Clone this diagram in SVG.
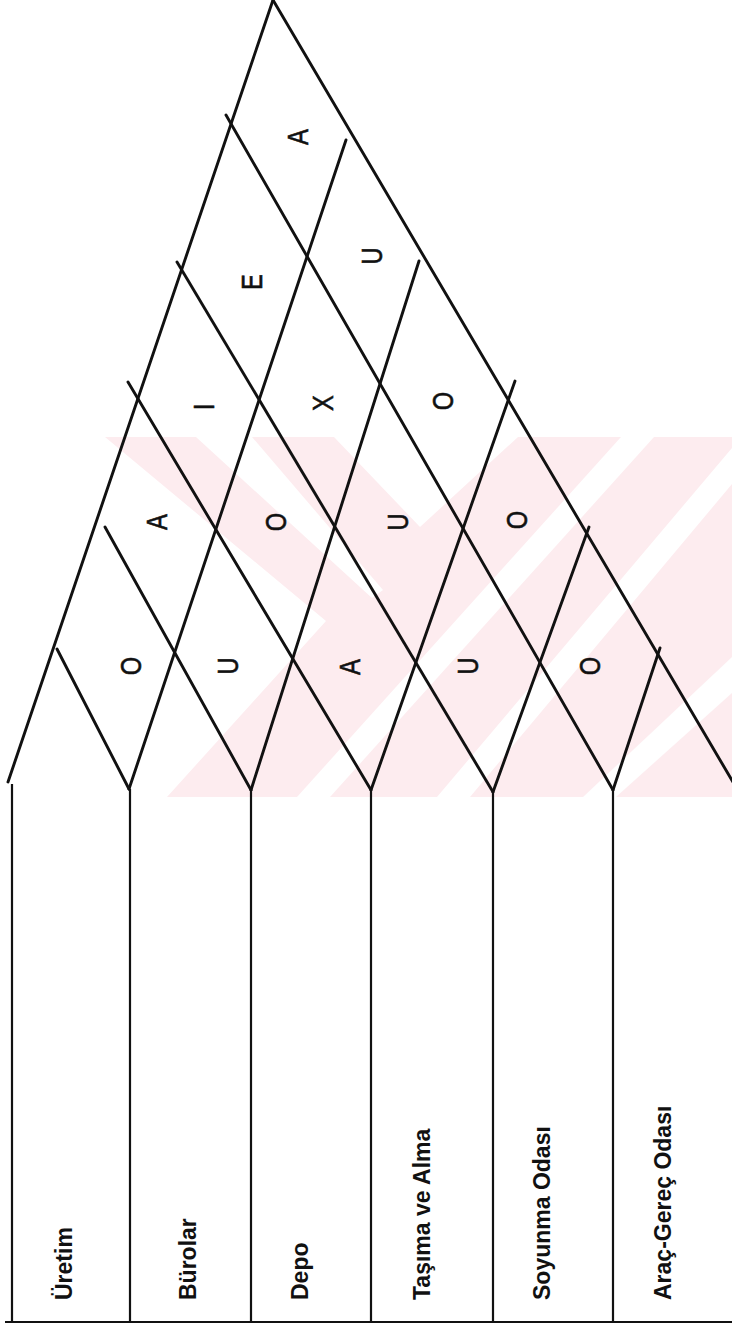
<svg xmlns="http://www.w3.org/2000/svg" width="732" height="1330" viewBox="0 0 732 1330">
<style>
.ln{stroke:#111;stroke-width:2.9;fill:none;stroke-linecap:round;stroke-linejoin:round}
.vl{stroke:#111;stroke-width:2.2;fill:none}
.lbl{font-family:"Liberation Sans",Arial,sans-serif;font-size:23px;font-weight:bold;fill:#111}
.rt{font-family:"Liberation Sans",Arial,sans-serif;font-size:29px;fill:#111;stroke:#111;stroke-width:0.6;text-anchor:middle}
.wm{fill:#fdecef;stroke:none}
.wh{fill:#fff;stroke:none}
</style>
<rect width="732" height="1330" fill="#fff"/>
<g id="watermark">
<polygon class="wm" points="105,437 732,437 732,797 167,797 326,621"/>
<polygon class="wh" points="196,437 252,437 383,590 372,598"/>
<polygon class="wh" points="334,437 518,437 420,527"/>
<polygon class="wh" points="621,437 654,437 330,797 297,797"/>
<polygon class="wh" points="732,448 732,484 470,797 437,797"/>
<polygon class="wh" points="732,657 732,693 616,797 583,797"/>
</g>
<g id="connectors">
<line class="ln" x1="8" y1="782" x2="273" y2="0"/>
<line class="ln" x1="273" y1="0" x2="740" y2="794"/>
<line class="ln" x1="129" y1="789" x2="346" y2="140"/>
<line class="ln" x1="251" y1="790" x2="419" y2="261"/>
<line class="ln" x1="371" y1="790" x2="515" y2="381"/>
<line class="ln" x1="493" y1="792" x2="589" y2="527"/>
<line class="ln" x1="613" y1="790" x2="660" y2="648"/>
<line class="ln" x1="129" y1="789" x2="57" y2="649"/>
<line class="ln" x1="251" y1="790" x2="105" y2="527"/>
<line class="ln" x1="371" y1="790" x2="128" y2="382"/>
<line class="ln" x1="493" y1="792" x2="177" y2="262"/>
<line class="ln" x1="613" y1="790" x2="226" y2="115"/>
<line class="vl" x1="12" y1="784" x2="12" y2="1322"/>
<line class="vl" x1="130" y1="789" x2="130" y2="1322"/>
<line class="vl" x1="251" y1="790" x2="251" y2="1322"/>
<line class="vl" x1="371" y1="790" x2="371" y2="1322"/>
<line class="vl" x1="493" y1="792" x2="493" y2="1322"/>
<line class="vl" x1="613" y1="790" x2="613" y2="1322"/>
<line class="vl" x1="5" y1="1322" x2="732" y2="1322" stroke-width="2.5"/>
</g>
<g id="ratings">
<text class="rt" transform="translate(131,666) rotate(-90) scale(0.82,1)" y="10.4">O</text>
<text class="rt" transform="translate(228,666) rotate(-90) scale(0.82,1)" y="10.4">U</text>
<text class="rt" transform="translate(350,667) rotate(-90) scale(0.82,1)" y="10.4">A</text>
<text class="rt" transform="translate(468,666) rotate(-90) scale(0.82,1)" y="10.4">U</text>
<text class="rt" transform="translate(590,666) rotate(-90) scale(0.82,1)" y="10.4">O</text>
<text class="rt" transform="translate(157,522) rotate(-90) scale(0.82,1)" y="10.4">A</text>
<text class="rt" transform="translate(276,522) rotate(-90) scale(0.82,1)" y="10.4">O</text>
<text class="rt" transform="translate(398,522) rotate(-90) scale(0.82,1)" y="10.4">U</text>
<text class="rt" transform="translate(517,520) rotate(-90) scale(0.82,1)" y="10.4">O</text>
<text class="rt" transform="translate(204,407) rotate(-90) scale(0.82,1)" y="10.4">I</text>
<text class="rt" transform="translate(323,403) rotate(-90) scale(0.82,1)" y="10.4">X</text>
<text class="rt" transform="translate(443,401) rotate(-90) scale(0.82,1)" y="10.4">O</text>
<text class="rt" transform="translate(252,282) rotate(-90) scale(0.82,1)" y="10.4">E</text>
<text class="rt" transform="translate(372,256) rotate(-90) scale(0.82,1)" y="10.4">U</text>
<text class="rt" transform="translate(298,137) rotate(-90) scale(0.82,1)" y="10.4">A</text>
</g>
<g id="node-uretim"><text class="lbl" transform="translate(72,1300) rotate(-90)">Üretim</text></g>
<g id="node-burolar"><text class="lbl" transform="translate(196,1300) rotate(-90)">Bürolar</text></g>
<g id="node-depo"><text class="lbl" transform="translate(308,1300) rotate(-90)">Depo</text></g>
<g id="node-tasima"><text class="lbl" transform="translate(430,1300) rotate(-90)">Taşıma ve Alma</text></g>
<g id="node-soyunma"><text class="lbl" transform="translate(550,1300) rotate(-90)">Soyunma Odası</text></g>
<g id="node-arac"><text class="lbl" transform="translate(671,1300) rotate(-90)">Araç-Gereç Odası</text></g>
</svg>
